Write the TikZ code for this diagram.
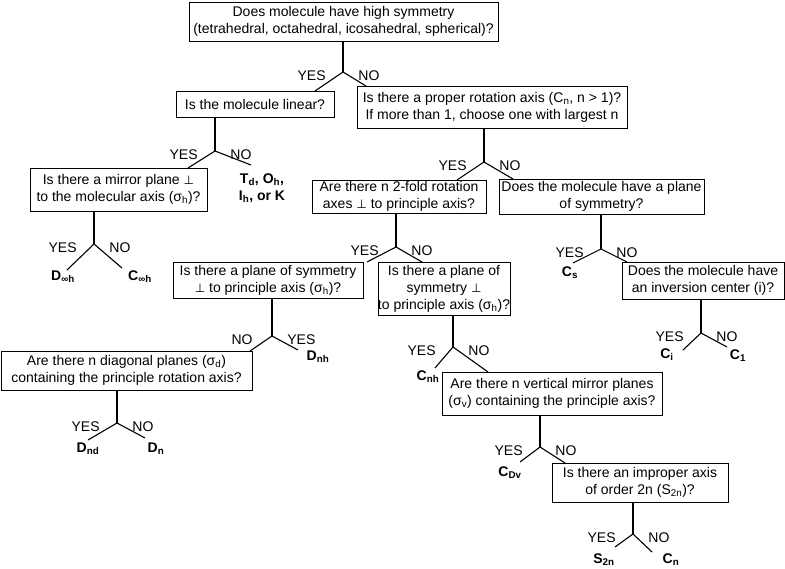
\documentclass[tikz,border=0pt]{standalone}
\usepackage{fontspec}
\setmainfont{Liberation Sans}
\newfontfamily\symfont{DejaVu Sans}
\newcommand{\perpsym}{{\symfont\fontsize{12}{14}\selectfont ⊥}}

\begin{document}
\begin{tikzpicture}[x=1pt, y=-1pt]
		\tikzset{question/.style = {draw, line width=0.9pt, align=center, inner sep=0pt, font=\fontsize{14}{17}\selectfont}}
		\tikzset{fork/.style = {inner sep=0pt, minimum size=0pt}}
		\tikzset{answer/.style = {inner sep=0pt, yshift=-4pt, font=\fontsize{14}{17}\selectfont}}
		\tikzset{lside/.style = {answer, xshift=-17pt}}
		\tikzset{rside/.style = {answer, xshift=15pt}}
		\tikzset{group/.style = {inner sep=0pt, align=center, font=\fontsize{14}{17}\selectfont\bfseries}}
		\tikzset{edge/.style = {line width=1.1pt}}

		\useasboundingbox (0,0) rectangle (785,569);

		% questions
		\node[question, minimum width=309pt, minimum height=39pt] (sym) at (343.5,21.5) {Does molecule have high symmetry\\(tetrahedral, octahedral, icosahedral, spherical)?};
		\node[question, minimum width=158pt, minimum height=26pt] (linear) at (255,104) {Is the molecule linear?};
		\node[question, minimum width=270pt, minimum height=42pt] (rot) at (492,107) {Is there a proper rotation axis (C\textsubscript{n}, n > 1)?\\If more than 1, choose one with largest n};
		\node[question, minimum width=177pt, minimum height=43pt] (mirror) at (118.5,189.5) {Is there a mirror plane \perpsym\\to the molecular axis (σ\textsubscript{h})?};
		\node[question, minimum width=174pt, minimum height=33pt] (twofold) at (399,196.5) {Are there n 2-fold rotation\\axes \perpsym\ to principle axis?};
		\node[question, minimum width=205pt, minimum height=35pt] (plane) at (601.5,196.5) {Does the molecule have a plane\\of symmetry?};
		\node[question, minimum width=190pt, minimum height=36pt] (horiz) at (268,280) {Is there a plane of symmetry\\\perpsym\ to principle axis (σ\textsubscript{h})?};
		\node[question, minimum width=132pt, minimum height=53pt] (horizb) at (444,288.5) {Is there a plane of\\symmetry \perpsym\\to principle axis (σ\textsubscript{h})?};
		\node[question, minimum width=162pt, minimum height=37pt] (inv) at (703,280.5) {Does the molecule have\\an inversion center (i)?};
		\node[question, minimum width=251pt, minimum height=39pt] (diag) at (126.5,370.5) {Are there n diagonal planes (σ\textsubscript{d})\\containing the principle rotation axis?};
		\node[question, minimum width=220pt, minimum height=43pt] (vert) at (552,393.5) {Are there n vertical mirror planes\\(σ\textsubscript{v}) containing the principle axis?};
		\node[question, minimum width=176pt, minimum height=39pt] (improp) at (640,482.5) {Is there an improper axis\\of order 2n (S\textsubscript{2n})?};

		% forks
		\node[fork, label={[lside]left:YES}, label={[rside]right:NO}] (f1) at (343,72) {};
		\node[fork, label={[lside]left:YES}, label={[rside]right:NO}] (f2) at (215,151) {};
		\node[fork, label={[lside]left:YES}, label={[rside]right:NO}] (f3) at (484,162) {};
		\node[fork, label={[lside]left:YES}, label={[rside]right:NO}] (f4) at (94,244) {};
		\node[fork, label={[lside]left:YES}, label={[rside]right:NO}] (f5) at (396,247) {};
		\node[fork, label={[lside]left:YES}, label={[rside]right:NO}] (f6) at (601,249) {};
		\node[fork, label={[lside, xshift=-2pt]left:NO}, label={[rside]right:YES}] (f7) at (272,336) {};
		\node[fork, label={[lside]left:YES}, label={[rside]right:NO}] (f8) at (453,347) {};
		\node[fork, label={[lside]left:YES}, label={[rside]right:NO}] (f9) at (701,333) {};
		\node[fork, label={[lside]left:YES}, label={[rside]right:NO}] (f10) at (117,423) {};
		\node[fork, label={[lside]left:YES}, label={[rside]right:NO}] (f11) at (540,447) {};
		\node[fork, label={[lside]left:YES}, label={[rside]right:NO}] (f12) at (633,534) {};

		% point groups
		\node[group] (Tgrp) at (262,188) {T\textsubscript{d}, O\textsubscript{h},\\I\textsubscript{h}, or K};
		\node[group] (Dinfh) at (63,277) {D\textsubscript{∞h}};
		\node[group] (Cinfh) at (140,277) {C\textsubscript{∞h}};
		\node[group] (Cs) at (570,273) {C\textsubscript{s}};
		\node[group] (Dnh) at (318,357) {D\textsubscript{nh}};
		\node[group] (Cnh) at (428,377) {C\textsubscript{nh}};
		\node[group] (Ci) at (667,355) {C\textsubscript{i}};
		\node[group] (C1) at (738,356) {C\textsubscript{1}};
		\node[group] (Dnd) at (88,449) {D\textsubscript{nd}};
		\node[group] (Dn) at (156,449) {D\textsubscript{n}};
		\node[group] (CDv) at (510,473) {C\textsubscript{Dv}};
		\node[group] (S2n) at (604,560) {S\textsubscript{2n}};
		\node[group] (Cn) at (671,560) {C\textsubscript{n}};

		% branch ends
		\coordinate (e1a) at (315,91);   \coordinate (e1b) at (366,86);
		\coordinate (e2a) at (188,168);  \coordinate (e2b) at (251,165);
		\coordinate (e3a) at (457,180);  \coordinate (e3b) at (513,179);
		\coordinate (e4a) at (67,270);   \coordinate (e4b) at (122,268);
		\coordinate (e5a) at (367,262);  \coordinate (e5b) at (422,262);
		\coordinate (e6a) at (573,263);  \coordinate (e6b) at (627,262);
		\coordinate (e7a) at (250,351);  \coordinate (e7b) at (298,350);
		\coordinate (e8a) at (435,368);  \coordinate (e8b) at (488,372);
		\coordinate (e9a) at (683,350);  \coordinate (e9b) at (727,347);
		\coordinate (e10a) at (88,440);  \coordinate (e10b) at (145,438);
		\coordinate (e11a) at (520,462); \coordinate (e11b) at (565,463);
		\coordinate (e12a) at (615,547); \coordinate (e12b) at (652,552);

		% stems
		\draw[edge] (sym.south -| f1) to (f1);
		\draw[edge] (linear.south -| f2) to (f2);
		\draw[edge] (rot.south -| f3) to (f3);
		\draw[edge] (mirror.south -| f4) to (f4);
		\draw[edge] (twofold.south -| f5) to (f5);
		\draw[edge] (plane.south -| f6) to (f6);
		\draw[edge] (horiz.south -| f7) to (f7);
		\draw[edge] (horizb.south -| f8) to (f8);
		\draw[edge] (inv.south -| f9) to (f9);
		\draw[edge] (diag.south -| f10) to (f10);
		\draw[edge] (vert.south -| f11) to (f11);
		\draw[edge] (improp.south -| f12) to (f12);

		% branches
		\draw[edge] (e1a) to (f1) to (e1b);
		\draw[edge] (e2a) to (f2) to (e2b);
		\draw[edge] (e3a) to (f3) to (e3b);
		\draw[edge] (e4a) to (f4) to (e4b);
		\draw[edge] (e5a) to (f5) to (e5b);
		\draw[edge] (e6a) to (f6) to (e6b);
		\draw[edge] (e7a) to (f7) to (e7b);
		\draw[edge] (e8a) to (f8) to (e8b);
		\draw[edge] (e9a) to (f9) to (e9b);
		\draw[edge] (e10a) to (f10) to (e10b);
		\draw[edge] (e11a) to (f11) to (e11b);
		\draw[edge] (e12a) to (f12) to (e12b);

	\end{tikzpicture}
\end{document}
